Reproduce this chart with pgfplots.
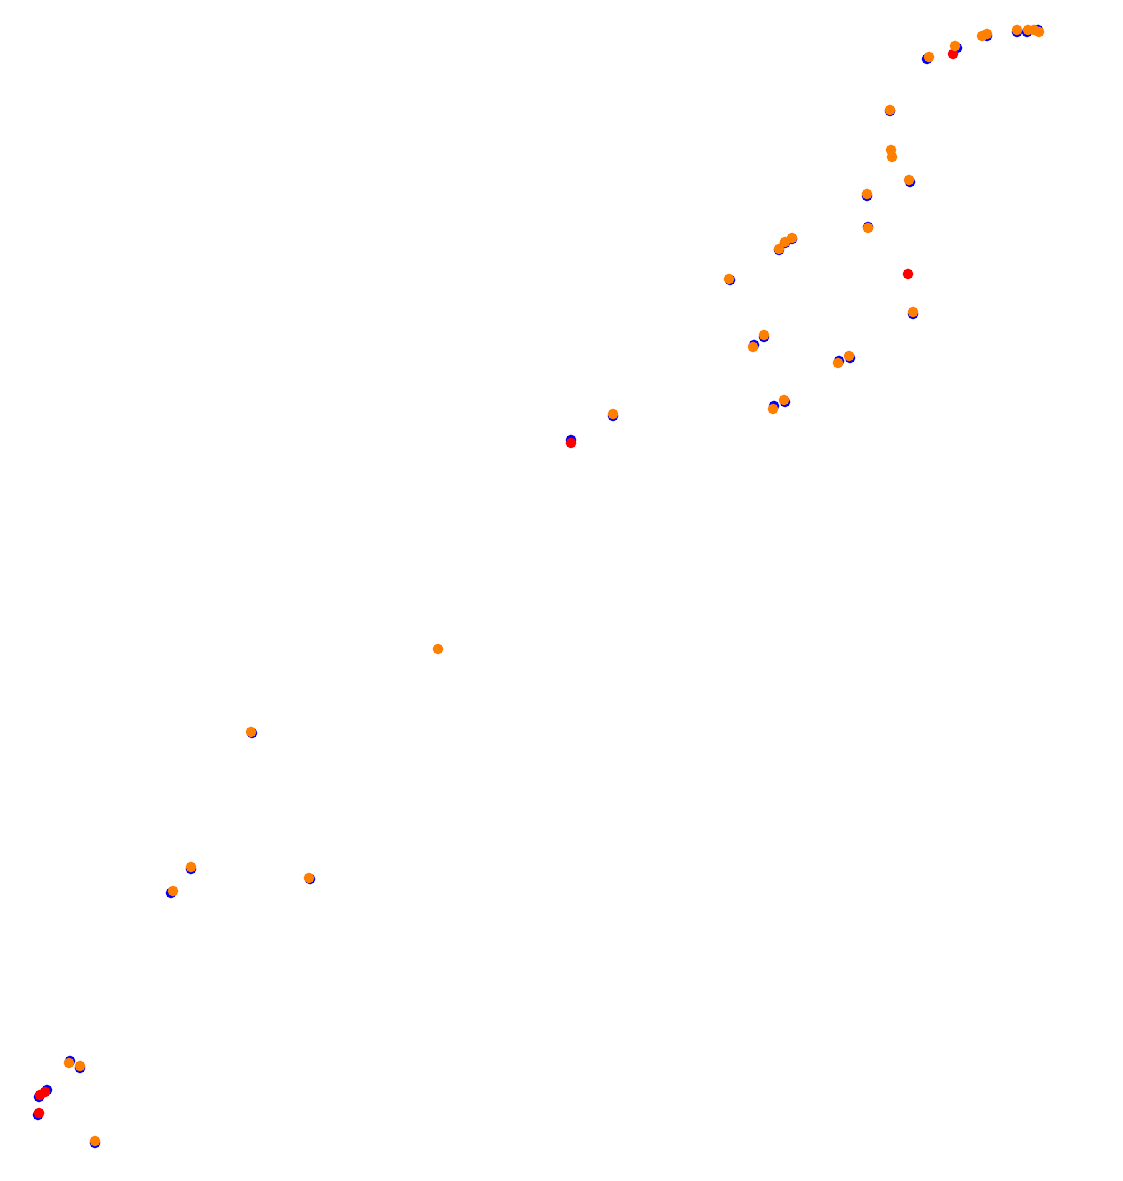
\documentclass[border=0pt]{standalone}
\usepackage{pgfplots}
\pgfplotsset{compat=1.18}
\definecolor{dotblue}{RGB}{0,0,255}
\definecolor{dotred}{RGB}{255,0,0}
\definecolor{dotorange}{RGB}{255,128,0}
\begin{document}
\begin{tikzpicture}
\begin{axis}[
  name=ax,
  scale only axis, width=11.22cm, height=11.81cm,
  xmin=0, xmax=1122, ymin=-1181, ymax=0,
  hide axis, clip=false,
  every axis plot/.append style={only marks, mark=*, mark size=1.3pt},
]
% blue
\addplot[dotblue, mark options={draw=none, fill=dotblue}] coordinates {
(927,-59) (957,-48) (987,-36) (1017,-32) (1027,-32) (1038,-30)
(890,-111) (910,-182) (867,-196) (868,-227) (913,-314)
(730,-280) (779,-250) (785,-243) (792,-239)
(764,-337) (754,-345) (850,-358) (839,-361) (785,-402) (774,-406)
(613,-416) (571,-440)
(252,-733) (191,-869) (171,-893) (310,-879)
(70,-1061) (80,-1068) (47,-1090) (39,-1097) (38,-1115) (95,-1143)
};
% red
\addplot[dotred, mark options={draw=none, fill=dotred}] coordinates {
(953,-54) (908,-274) (571,-443) (45,-1092) (40,-1095) (39,-1113)
};
% orange
\addplot[dotorange, mark options={draw=none, fill=dotorange}] coordinates {
(929,-57) (955,-46) (982,-36) (987,-34) (1017,-30) (1028,-30) (1034,-30) (1039,-32)
(890,-110) (891,-150) (892,-157) (909,-180) (867,-194) (868,-228) (913,-312)
(729,-279) (779,-249) (785,-242) (792,-238)
(764,-335) (753,-347) (849,-356) (838,-363) (784,-400) (773,-409)
(613,-414) (438,-649)
(251,-732) (191,-867) (173,-891) (309,-878)
(69,-1063) (80,-1066) (95,-1141)
};
\end{axis}
\pgfresetboundingbox
\path (ax.south west) rectangle (ax.north east);
\end{tikzpicture}
\end{document}
